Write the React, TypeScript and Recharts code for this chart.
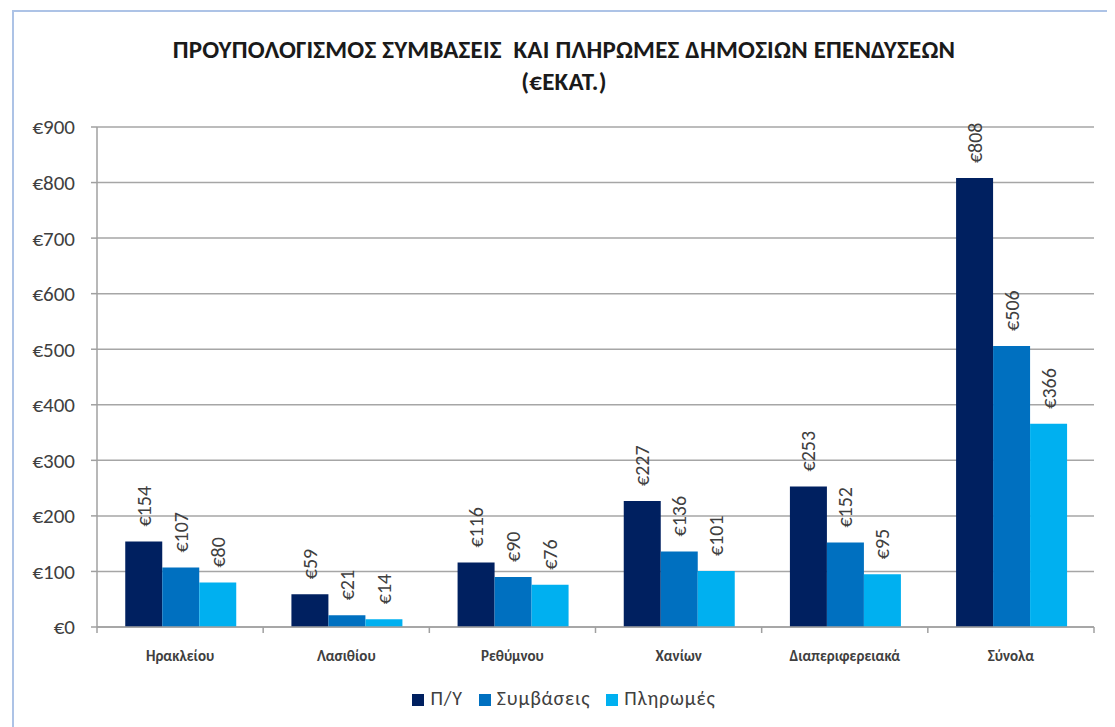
import React from "react";
import { BarChart, Bar, XAxis, YAxis, CartesianGrid, Legend, LabelList } from "recharts";

const categories = ["Ηρακλείου", "Λασιθίου", "Ρεθύμνου", "Χανίων", "Διαπεριφερειακά", "Σύνολα"];
const budget = [154, 59, 116, 227, 253, 808];
const contracts = [107, 21, 90, 136, 152, 506];
const payments = [80, 14, 76, 101, 95, 366];
const yTicks = [0, 100, 200, 300, 400, 500, 600, 700, 800, 900];
const seriesOrder = ["Π/Υ", "Συμβάσεις", "Πληρωμές"];

const data = categories.map((name, i) => ({
  name,
  py: budget[i],
  symv: contracts[i],
  plir: payments[i],
}));

const FONT = "Carlito, Calibri, 'Open Sans', 'Noto Sans', sans-serif";
const TEXT = "#404040";
const CHART_W = 1100;
const CHART_H = 712;
const M = { top: 115, right: 20, left: 0, bottom: 57 };
const YAXIS_W = 83;
const BAND = (CHART_W - M.left - M.right - YAXIS_W) / categories.length;

const ValueLabel = (props: any) => {
  const { x, y, width, value } = props;
  const cx = x + width / 2;
  const ty = y - 15;
  return (
    <text
      x={cx}
      y={ty}
      transform={`rotate(-90, ${cx}, ${ty})`}
      textAnchor="start"
      dominantBaseline="central"
      fill={TEXT}
      fontSize={20}
      fontFamily={FONT}
    >
      {"€" + value}
    </text>
  );
};

const CatTick = (props: any) => {
  const { x, y, payload, index } = props;
  const last = index === categories.length - 1;
  return (
    <g>
      <line x1={x - BAND / 2} y1={y - 8} x2={x - BAND / 2} y2={y - 2} stroke="#a0a0a0" strokeWidth={1.5} />
      {last && <line x1={x + BAND / 2} y1={y - 8} x2={x + BAND / 2} y2={y - 2} stroke="#a0a0a0" strokeWidth={1.5} />}
      <text x={x} y={y + 26} textAnchor="middle" fill={TEXT} fontSize={15} fontWeight="bold" fontFamily={FONT}>
        {payload.value}
      </text>
    </g>
  );
};

export default function App() {
  return (
    <div
      style={{
        position: "relative",
        marginLeft: 4,
        marginTop: 2,
        width: 1103,
        height: 717,
        boxSizing: "border-box",
        borderLeft: "2px solid #adc3e6",
        borderTop: "2px solid #adc3e6",
        background: "#fff",
        overflow: "hidden",
      }}
    >
      <div
        style={{
          position: "absolute",
          left: 0,
          top: 22,
          width: CHART_W,
          textAlign: "center",
          fontFamily: FONT,
          fontWeight: "bold",
          fontSize: 25,
          lineHeight: "32px",
          color: "#1a1a1a",
          letterSpacing: 0.2,
        }}
      >
        ΠΡΟΥΠΟΛΟΓΙΣΜΟΣ ΣΥΜΒΑΣΕΙΣ&nbsp; ΚΑΙ ΠΛΗΡΩΜΕΣ ΔΗΜΟΣΙΩΝ ΕΠΕΝΔΥΣΕΩΝ
        <br />
        (€ΕΚΑΤ.)
      </div>
      <div style={{ position: "absolute", left: 0, top: 0 }}>
        <BarChart
          width={CHART_W}
          height={CHART_H}
          data={data}
          margin={M}
          barGap={0}
          barCategoryGap="17%"
        >
          <CartesianGrid vertical={false} stroke="#a6a6a6" strokeWidth={1.5} />
          <XAxis
            dataKey="name"
            tick={<CatTick />}
            tickLine={false}
            axisLine={{ stroke: "#a0a0a0", strokeWidth: 1.5 }}
            interval={0}
            height={40}
          />
          <YAxis
            width={YAXIS_W}
            domain={[0, 900]}
            ticks={yTicks}
            tickFormatter={(v: number) => "€" + v}
            tick={{ fill: TEXT, fontSize: 21, fontFamily: FONT }}
            tickLine={{ stroke: "#a0a0a0", strokeWidth: 1.5 }}
            axisLine={{ stroke: "#a0a0a0", strokeWidth: 1.5 }}
            tickSize={6}
            tickMargin={16}
          />
          <Legend
            verticalAlign="middle"
            align="center"
            layout="horizontal"
            iconType="square"
            iconSize={12}
            itemSorter={(item: any) => seriesOrder.indexOf(item.value)}
            wrapperStyle={{ top: 674, left: 8, width: CHART_W, fontFamily: FONT, fontSize: 20, letterSpacing: 0.8 }}
            formatter={(v: string) => (
              <span style={{ color: TEXT, marginLeft: 2, marginRight: 6 }}>{v}</span>
            )}
          />
          <Bar dataKey="py" name="Π/Υ" fill="#002060" isAnimationActive={false}>
            <LabelList dataKey="py" content={<ValueLabel />} />
          </Bar>
          <Bar dataKey="symv" name="Συμβάσεις" fill="#0070c0" isAnimationActive={false}>
            <LabelList dataKey="symv" content={<ValueLabel />} />
          </Bar>
          <Bar dataKey="plir" name="Πληρωμές" fill="#00b0f0" isAnimationActive={false}>
            <LabelList dataKey="plir" content={<ValueLabel />} />
          </Bar>
        </BarChart>
      </div>
    </div>
  );
}
